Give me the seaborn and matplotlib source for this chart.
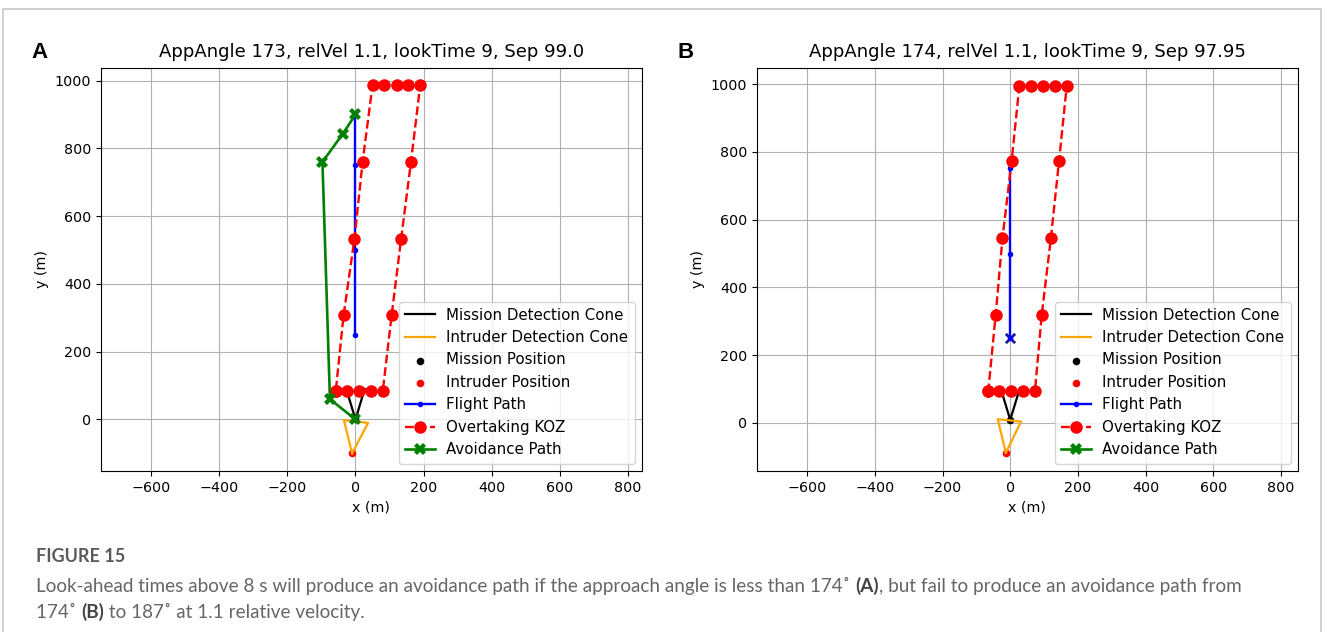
import matplotlib
matplotlib.use("Agg")
import matplotlib.pyplot as plt
import seaborn as sns
import numpy as np
import pandas as pd
from matplotlib.patches import Rectangle
from matplotlib.ticker import MultipleLocator

plt.rcParams["font.family"] = ["DejaVu Sans"]

# ---------------- data ----------------
titles = ["AppAngle 173, relVel 1.1, lookTime 9, Sep 99.0",
          "AppAngle 174, relVel 1.1, lookTime 9, Sep 97.95"]
panel_letters = ["A", "B"]

# Panel A
mcone_x_A = [-27, 0, 27]
mcone_y_A = [90, 0, 90]
icone_x_A = [-10, -34, 37, -10]
icone_y_A = [-100, -2, -10, -100]
mission_A = (0, 0)
intruder_A = (-10, -100)
flight_x_A = [0, 0, 0, 0]
flight_y_A = [250, 500, 750, 900]
koz_x_A = [-58, -24, 9, 45, 80, 106, 134, 163, 190, 155, 121, 85, 50, 21, -3, -35, -58]
koz_y_A = [83, 83, 83, 83, 83, 307, 533, 761, 986, 986, 986, 986, 986, 761, 533, 307, 83]
avoid_x_A = [0, -75, -97, -37, 0]
avoid_y_A = [0, 60, 760, 843, 900]
xlim_A = (-747, 841)
ylim_A = (-152, 1037)

# Panel B
mcone_x_B = [-27, 0, 27]
mcone_y_B = [98, 9, 98]
icone_x_B = [-13, -37, 32, -13]
icone_y_B = [-88, 11, 4, -88]
mission_B = (0, 9)
intruder_B = (-13, -88)
flight_x_B = [0, 0, 0]
flight_y_B = [250, 500, 752]
koz_x_B = [-65, -33, 1, 37, 73, 93, 120, 144, 167, 133, 98, 61, 27, 4, -23, -43, -65]
koz_y_B = [94, 94, 94, 94, 94, 319, 545, 772, 996, 996, 996, 996, 996, 772, 545, 319, 94]
avoid_x_B = []
avoid_y_B = []
xlim_B = (-748, 850)
ylim_B = (-142, 1048)

panels = [
    dict(mcx=mcone_x_A, mcy=mcone_y_A, icx=icone_x_A, icy=icone_y_A, mp=mission_A, ip=intruder_A,
         fx=flight_x_A, fy=flight_y_A, kx=koz_x_A, ky=koz_y_A, ax_=avoid_x_A, ay_=avoid_y_A,
         xl=xlim_A, yl=ylim_A, start_x=False),
    dict(mcx=mcone_x_B, mcy=mcone_y_B, icx=icone_x_B, icy=icone_y_B, mp=mission_B, ip=intruder_B,
         fx=flight_x_B, fy=flight_y_B, kx=koz_x_B, ky=koz_y_B, ax_=avoid_x_B, ay_=avoid_y_B,
         xl=xlim_B, yl=ylim_B, start_x=True),
]

caption_head = "FIGURE 15"
caption_line1 = [("Look-ahead times above 8 s will produce an avoidance path if the approach angle is less than 174\u02da ", False),
                 ("(A)", True),
                 (", but fail to produce an avoidance path from", False)]
caption_line2 = [("174\u02da ", False), ("(B)", True), (" to 187\u02da at 1.1 relative velocity.", False)]

# ---------------- figure ----------------
W, H = 1327, 632
fig = plt.figure(figsize=(W / 100, H / 100), dpi=100)
fig.patch.set_facecolor("white")

# outer light border
fig.add_artist(Rectangle((3 / W, -0.05), (1321 - 3) / W, 1.05 - 9 / H, transform=fig.transFigure,
                         fill=False, edgecolor="#c8c8c8", linewidth=1.2))

axes_lefts = [101, 757]
ax_w, ax_top, ax_bot = 541, 68, 471
letter_x = [40, 686]

for i, p in enumerate(panels):
    ax = fig.add_axes([axes_lefts[i] / W, 1 - ax_bot / H, ax_w / W, (ax_bot - ax_top) / H])
    ax.grid(True, color="#b0b0b0", linewidth=0.8)
    ax.set_axisbelow(True)

    sns.lineplot(x=p["mcx"], y=p["mcy"], sort=False, estimator=None, color="black",
                 linewidth=1.6, label="Mission Detection Cone", ax=ax)
    sns.lineplot(x=p["icx"], y=p["icy"], sort=False, estimator=None, color="orange",
                 linewidth=1.6, label="Intruder Detection Cone", ax=ax)
    sns.scatterplot(x=[p["mp"][0]], y=[p["mp"][1]], color="black", s=30, linewidth=0,
                    label="Mission Position", ax=ax)
    sns.scatterplot(x=[p["ip"][0]], y=[p["ip"][1]], color="red", s=30, linewidth=0,
                    label="Intruder Position", ax=ax)
    sns.lineplot(x=p["fx"], y=p["fy"], sort=False, estimator=None, color="blue",
                 linewidth=1.7, marker="o", markersize=4, markeredgewidth=0,
                 label="Flight Path", ax=ax)
    if p["start_x"]:
        sns.scatterplot(x=[p["fx"][0]], y=[p["fy"][0]], color="#1a1aa0", marker="x", s=45,
                        linewidth=2, ax=ax, legend=False)
    sns.lineplot(x=p["kx"], y=p["ky"], sort=False, estimator=None, color="red",
                 linewidth=1.7, linestyle="--", marker="o", markersize=9, markeredgewidth=0,
                 label="Overtaking KOZ", ax=ax)
    if len(p["ax_"]) > 0:
        sns.lineplot(x=p["ax_"], y=p["ay_"], sort=False, estimator=None, color="green",
                     linewidth=1.9, marker="X", markersize=8.5, markeredgewidth=0,
                     label="Avoidance Path", ax=ax)
    else:
        ax.plot([], [], color="green", linewidth=1.9, marker="X", markersize=8.5,
                markeredgewidth=0, label="Avoidance Path")

    ax.set_xlim(*p["xl"])
    ax.set_ylim(*p["yl"])
    ax.xaxis.set_major_locator(MultipleLocator(200))
    ax.yaxis.set_major_locator(MultipleLocator(200))
    ax.tick_params(labelsize=10.3)
    ax.set_xlabel("x (m)", fontsize=10.3)
    ax.set_ylabel("y (m)", fontsize=10.3)
    ax.set_title(titles[i], fontsize=13, pad=8)
    ax.legend(loc="lower right", fontsize=10.8)
    fig.text(letter_x[i] / W, 1 - 52 / H, panel_letters[i], fontsize=16, fontweight="bold",
             ha="center", va="center", family=["Liberation Sans", "DejaVu Sans"])

# caption
cap_color = "#666666"
cap_font = ["Lato", "DejaVu Sans"]
fig.text(36 / W, 1 - 562 / H, caption_head, fontsize=13, fontweight="bold", color="#5a5a5a",
         family=cap_font, va="baseline", ha="left")

fig.canvas.draw()
renderer = fig.canvas.get_renderer()


def place_line(pieces, x0_px, base_px):
    x = x0_px
    for txt, bold in pieces:
        t = fig.text(x / W, 1 - base_px / H, txt, fontsize=13.6, color="#444444" if bold else cap_color,
                     fontweight="bold" if bold else "normal", family=cap_font,
                     va="baseline", ha="left")
        bb = t.get_window_extent(renderer=renderer)
        x += bb.width


place_line(caption_line1, 36, 592)
place_line(caption_line2, 36, 618)

fig.savefig("out.png", dpi=100, facecolor="white")
